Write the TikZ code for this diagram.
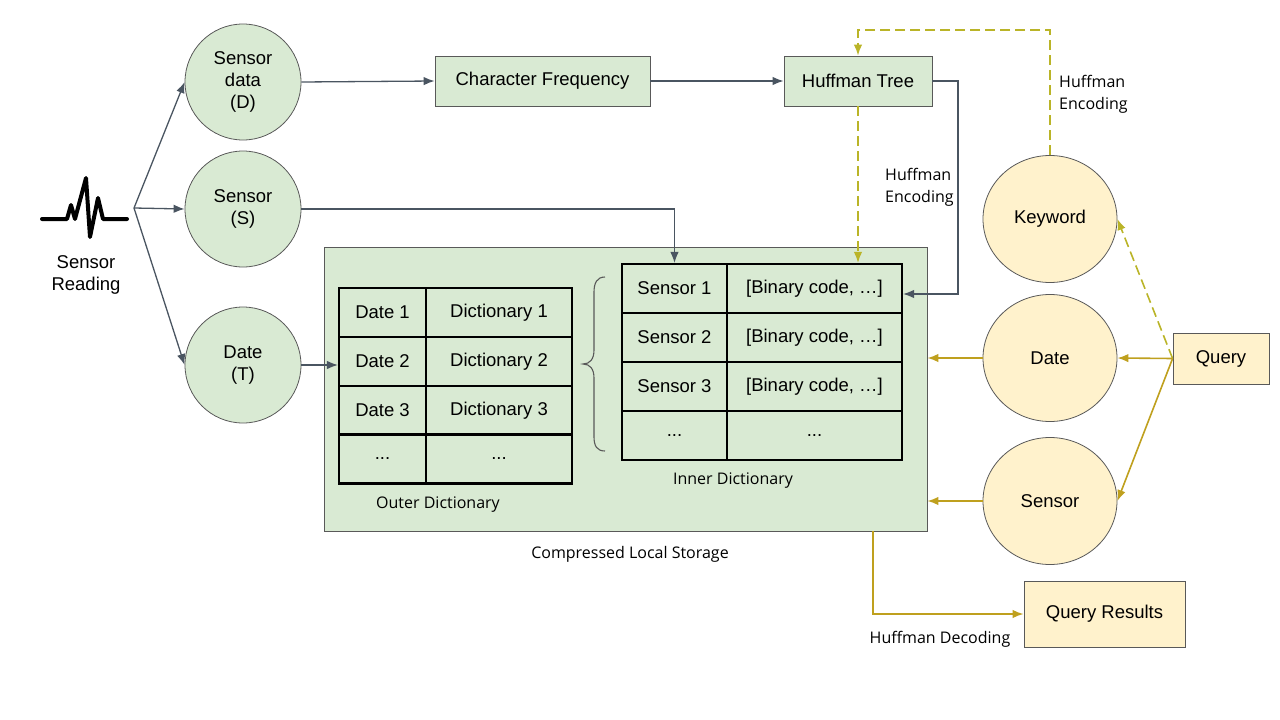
\documentclass[tikz,border=0pt]{standalone}
\usepackage{fontspec}
\setmainfont{Liberation Sans}
\newfontfamily\lblfont{Open Sans}
\usetikzlibrary{arrows.meta,shapes.geometric,calc}
\definecolor{gfill}{HTML}{D9EAD3}
\definecolor{yfill}{HTML}{FFF2CC}
\definecolor{bord}{HTML}{595959}
\definecolor{conn}{HTML}{4A5561}
\definecolor{gold}{RGB}{191,160,30}
\definecolor{dgold}{RGB}{186,180,40}
\tikzset{
  base/.style={font=\fontsize{18.5}{22}\selectfont, align=center, inner sep=0pt},
  gcirc/.style={base, circle, draw=bord, fill=gfill, line width=0.8pt, minimum size=116pt},
  ycirc/.style={base, ellipse, draw=bord, fill=yfill, line width=0.8pt, minimum width=134pt, minimum height=127pt},
  gbox/.style={base, rectangle, draw=bord, fill=gfill, line width=0.8pt},
  ybox/.style={base, rectangle, draw=bord, fill=yfill, line width=0.8pt},
  cellA/.style={base, rectangle, draw=black, line width=2.2pt, minimum height=49pt},
  lbl/.style={font=\lblfont\fontsize{16}{22}\selectfont, inner sep=0pt, align=left},
  tip/.style={-{Latex[length=11pt,width=8.5pt]}},
  darr/.style={tip, draw=conn, line width=1.3pt},
  garr/.style={tip, draw=gold, line width=1.6pt},
  dasharr/.style={tip, draw=dgold, line width=1.6pt, dash pattern=on 10pt off 5pt},
}
\begin{document}
\begin{tikzpicture}[x=1pt,y=-1pt]
\useasboundingbox (0,0) rectangle (1280,720);

% storage
\node[gbox, minimum width=603pt, minimum height=284pt] (st) at (625.5,389) {};
\node[lbl] (stl) at (630,554) {Compressed Local Storage};

% sensor reading icon
\draw[line width=4pt, line join=round, line cap=round] (42,219) -- (67,219) -- (71,205) -- (75,219) -- (86,178) -- (90,237) -- (98,198) -- (103,219) -- (127,219);
\node[base] (sr) at (86,275) {Sensor\\Reading};
\coordinate (fork) at (134,208);

% green circles
\node[gcirc] (sd) at (243,82) {Sensor\\data\\(D)};
\node[gcirc] (ss) at (243,209) {Sensor\\(S)};
\node[gcirc] (dt) at (243,365) {Date\\(T)};

% boxes
\node[gbox, minimum width=215pt, minimum height=50pt] (cf) at (542.5,81) {Character Frequency};
\node[gbox, minimum width=148pt, minimum height=50pt] (ht) at (858,81) {Huffman Tree};

% outer dictionary
\node[cellA, minimum width=87pt] (d1) at (382.5,312.5) {Date 1};
\node[cellA, minimum width=146pt] (e1) at (499,312.5) {Dictionary 1};
\node[cellA, minimum width=87pt] (d2) at (382.5,361.5) {Date 2};
\node[cellA, minimum width=146pt] (e2) at (499,361.5) {Dictionary 2};
\node[cellA, minimum width=87pt] (d3) at (382.5,410.5) {Date 3};
\node[cellA, minimum width=146pt] (e3) at (499,410.5) {Dictionary 3};
\node[cellA, minimum width=87pt] (d4) at (382.5,459) {...};
\node[cellA, minimum width=146pt] (e4) at (499,459) {...};
\node[lbl] (odl) at (438,505) {Outer Dictionary};

% inner dictionary
\node[cellA, minimum width=105pt] (s1) at (674.5,288.5) {Sensor 1};
\node[cellA, minimum width=175pt] (b1) at (814.5,288.5) {[Binary code, …]};
\node[cellA, minimum width=105pt] (s2) at (674.5,337.5) {Sensor 2};
\node[cellA, minimum width=175pt] (b2) at (814.5,337.5) {[Binary code, …]};
\node[cellA, minimum width=105pt] (s3) at (674.5,386.5) {Sensor 3};
\node[cellA, minimum width=175pt] (b3) at (814.5,386.5) {[Binary code, …]};
\node[cellA, minimum width=105pt] (s4) at (674.5,435.5) {...};
\node[cellA, minimum width=175pt] (b4) at (814.5,435.5) {...};
\node[lbl] (idl) at (733,481) {Inner Dictionary};

% brace
\draw[draw=bord, line width=1.1pt] (605,277) .. controls (597,277) and (594,283) .. (594,292) -- (594,350) .. controls (594,359) and (590,364) .. (583,364) .. controls (590,364) and (594,369) .. (594,378) -- (594,437) .. controls (594,446) and (597,451) .. (605,451);

% yellow nodes
\node[ycirc] (kw) at (1050,219) {Keyword};
\node[ycirc] (dq) at (1050,358) {Date};
\node[ycirc] (sq) at (1050,501) {Sensor};
\node[ybox, minimum width=96pt, minimum height=51pt] (q) at (1221,358.5) {Query};
\node[ybox, minimum width=161pt, minimum height=66pt] (qr) at (1104.5,614) {Query Results};

% labels
\node[lbl, anchor=west] (he1) at (885,187) {Huffman\\Encoding};
\node[lbl, anchor=west] (he2) at (1059,94) {Huffman\\Encoding};
\node[lbl] (hd) at (940,639) {Huffman Decoding};

% dark connectors
\draw[darr] (fork) -- (sd.west);
\draw[darr] (fork) -- (ss.west);
\draw[darr] (fork) -- (dt.west);
\draw[darr] (sd.east) -- (cf.west);
\draw[darr] (cf.east) -- (ht.west);
\draw[darr] (ss.east) -| (s1.north);
\draw[darr] (dt.east) -- (dt.east -| d2.west);
\coordinate (hr) at (958,294);
\draw[darr] (ht.east) -| (hr) -- (hr -| b1.east);

% gold connectors
\coordinate (top) at (1050,30);
\draw[dasharr] (kw.north) -- (top) -| (ht.north);
\draw[dasharr] (ht.south) -- (ht.south |- b1.north);
\draw[dasharr] (q.west) -- (kw.east);
\draw[garr] (q.west) -- (dq.east);
\draw[garr] (q.west) -- (sq.east);
\draw[garr] (dq.west) -- (dq.west -| st.east);
\draw[garr] (sq.west) -- (sq.west -| st.east);
\coordinate (dd) at (873,531);
\draw[garr] (dd) |- (qr.west);
\end{tikzpicture}
\end{document}
